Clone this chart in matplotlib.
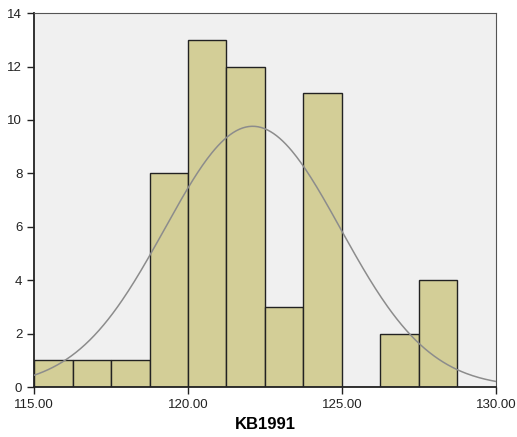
import numpy as np
import matplotlib.pyplot as plt

plt.rcParams['font.family'] = ['Liberation Sans', 'DejaVu Sans']

# histogram bins (left edges) and counts
bin_edges = [115.0, 116.25, 117.5, 118.75, 120.0, 121.25, 122.5,
             123.75, 125.0, 126.25, 127.5, 128.75]
counts = [1, 1, 1, 8, 13, 12, 3, 11, 0, 2, 4]

# fitted normal curve parameters
mean = 122.1
sd = 2.86
n_total = sum(counts)

xticks = [115, 120, 125, 130]
xticklabels = ["115.00", "120.00", "125.00", "130.00"]
yticks = [0, 2, 4, 6, 8, 10, 12, 14]

fig = plt.figure(figsize=(5.17, 4.37), dpi=100)
ax = fig.add_axes([0.066, 0.114, 0.893, 0.856])
ax.set_facecolor("#f0f0f0")

widths = np.diff(bin_edges)
ax.bar(bin_edges[:-1], counts, width=widths, align="edge",
       color="#d3ce97", edgecolor="#222222", linewidth=1.0, zorder=2)

# normal curve
bw = widths[0]
x = np.linspace(115, 130, 300)
y = n_total * bw * np.exp(-0.5 * ((x - mean) / sd) ** 2) / (sd * np.sqrt(2 * np.pi))
ax.plot(x, y, color="#8c8c8c", linewidth=1.1, zorder=3)

ax.set_xlim(115, 130)
ax.set_ylim(0, 14)
ax.set_xticks(xticks)
ax.set_xticklabels(xticklabels)
ax.set_yticks(yticks)

for side in ["left", "bottom"]:
    ax.spines[side].set_color("#222222")
    ax.spines[side].set_linewidth(1.3)
for side in ["top", "right"]:
    ax.spines[side].set_color("#555555")
    ax.spines[side].set_linewidth(0.8)

ax.tick_params(axis="both", direction="out", length=5, width=1,
               color="#222222", labelsize=9.5, labelcolor="#222222")
ax.set_xlabel("KB1991", fontsize=12, fontweight="bold", labelpad=4)

fig.savefig("out.png", dpi=100)
